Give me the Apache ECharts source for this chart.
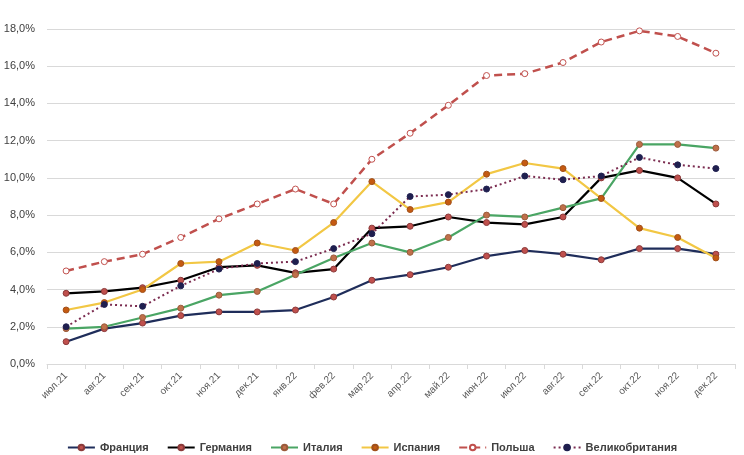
<!DOCTYPE html>
<html><head><meta charset="utf-8">
<script src="https://cdn.jsdelivr.net/npm/echarts@6/dist/echarts.min.js"></script>
<style>html,body{margin:0;padding:0;background:#fff}#c{width:744px;height:455px}</style>
</head><body><div id="c"></div>
<script>
const categories = ["июл.21","авг.21","сен.21","окт.21","ноя.21","дек.21","янв.22","фев.22","мар.22","апр.22","май.22","июн.22","июл.22","авг.22","сен.22","окт.22","ноя.22","дек.22"];
const france  = [1.2,1.9,2.2,2.6,2.8,2.8,2.9,3.6,4.5,4.8,5.2,5.8,6.1,5.9,5.6,6.2,6.2,5.9];
const germany = [3.8,3.9,4.1,4.5,5.2,5.3,4.9,5.1,7.3,7.4,7.9,7.6,7.5,7.9,10.0,10.4,10.0,8.6];
const italy   = [1.9,2.0,2.5,3.0,3.7,3.9,4.8,5.7,6.5,6.0,6.8,8.0,7.9,8.4,8.9,11.8,11.8,11.6];
const spain   = [2.9,3.3,4.0,5.4,5.5,6.5,6.1,7.6,9.8,8.3,8.7,10.2,10.8,10.5,8.9,7.3,6.8,5.7];
const poland  = [5.0,5.5,5.9,6.8,7.8,8.6,9.4,8.6,11.0,12.4,13.9,15.5,15.6,16.2,17.3,17.9,17.6,16.7];
const uk      = [2.0,3.2,3.1,4.2,5.1,5.4,5.5,6.2,7.0,9.0,9.1,9.4,10.1,9.9,10.1,11.1,10.7,10.5];
const yTicks  = [0,2,4,6,8,10,12,14,16,18];

const font = "'Liberation Sans', Arial, sans-serif";
function mk(name, data, lineColor, lineType, width, mFill, mBorder, extra) {
  return Object.assign({
    name, type: 'line', data,
    symbol: 'circle', symbolSize: 6,
    lineStyle: {color: lineColor, width: width, type: lineType},
    itemStyle: {color: mFill, borderColor: mBorder, borderWidth: 1},
    emphasis: {disabled: true}
  }, extra || {});
}
const chart = echarts.init(document.getElementById('c'), null, {renderer: 'canvas'});
chart.setOption({
  animation: false,
  grid: {left: 47, right: 9, top: 29, bottom: 91},
  xAxis: {
    type: 'category', data: categories, boundaryGap: true,
    axisLine: {lineStyle: {color: '#d9d9d9'}},
    axisTick: {show: true, alignWithLabel: false, length: 5, lineStyle: {color: '#d9d9d9'}},
    axisLabel: {rotate: 45, color: '#595959', fontSize: 10, fontFamily: font, margin: 10}
  },
  yAxis: {
    type: 'value', min: yTicks[0], max: yTicks[yTicks.length-1], interval: 2,
    axisLine: {show: false}, axisTick: {show: false},
    splitLine: {lineStyle: {color: '#d9d9d9'}},
    axisLabel: {color: '#404040', fontSize: 11, fontFamily: font, margin: 12,
      formatter: v => v.toFixed(1).replace('.', ',') + '%'}
  },
  legend: {
    bottom: -3, left: 'center', itemGap: 18, itemWidth: 27, itemHeight: 7,
    textStyle: {color: '#404040', fontSize: 11, fontWeight: 'bold', fontFamily: font}
  },
  series: [
    mk('Франция', france, '#1f2d5a', 'solid', 2.2, '#c0504d', '#8b3a3a'),
    mk('Германия', germany, '#000000', 'solid', 2.2, '#c0504d', '#8b3a3a'),
    mk('Италия', italy, '#4aa564', 'solid', 2.2, '#c0704a', '#9a5a3a'),
    mk('Испания', spain, '#f2c744', 'solid', 2.2, '#c55a11', '#a0501a'),
    mk('Польша', poland, '#c0504d', [8, 5], 2.5, '#ffffff', '#c0504d'),
    mk('Великобритания', uk, '#7b2c50', [2, 3], 2, '#1f1f4f', '#1f1f4f', {symbolSize: 6})
  ]
});
</script></body></html>
